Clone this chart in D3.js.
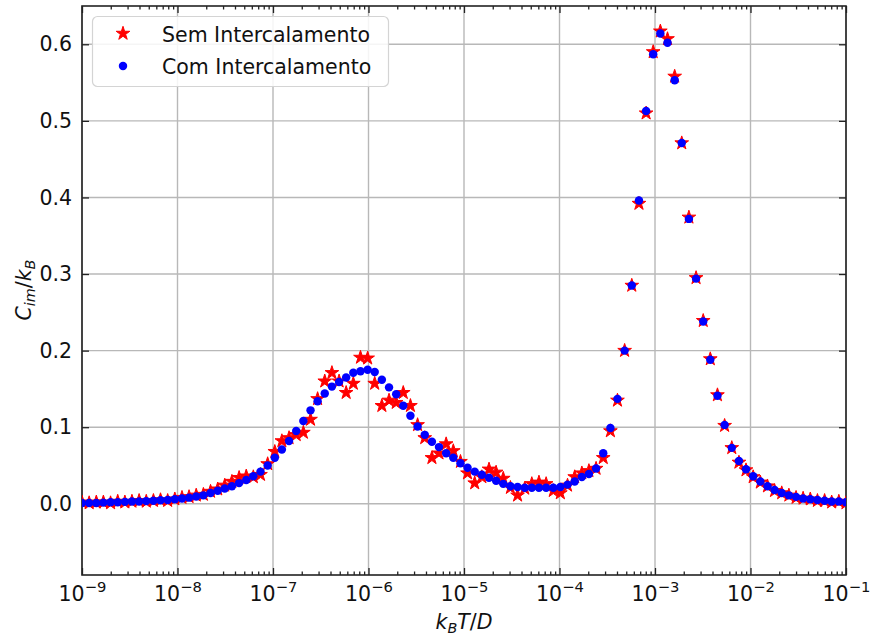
<!DOCTYPE html>
<html>
<head>
<meta charset="utf-8">
<script src="https://cdn.jsdelivr.net/npm/d3@7"></script>
<style>
body { margin: 0; background: #fff; }
text { font-family: "DejaVu Sans", sans-serif; fill: #111; }
</style>
</head>
<body>
<div id="canvas"></div>
<script>
// values: log10(kB T / D) for each point
const logT = [
  -9.000, -8.925, -8.850, -8.776, -8.701, -8.626, -8.551, -8.477, -8.402, -8.327,
  -8.252, -8.178, -8.103, -8.028, -7.953, -7.879, -7.804, -7.729, -7.654, -7.579,
  -7.505, -7.430, -7.355, -7.280, -7.206, -7.131, -7.056, -6.981, -6.907, -6.832,
  -6.757, -6.682, -6.607, -6.533, -6.458, -6.383, -6.308, -6.234, -6.159, -6.084,
  -6.009, -5.935, -5.860, -5.785, -5.710, -5.636, -5.561, -5.486, -5.411, -5.336,
  -5.262, -5.187, -5.112, -5.037, -4.963, -4.888, -4.813, -4.738, -4.664, -4.589,
  -4.514, -4.439, -4.364, -4.290, -4.215, -4.140, -4.065, -3.991, -3.916, -3.841,
  -3.766, -3.692, -3.617, -3.542, -3.467, -3.393, -3.318, -3.243, -3.168, -3.093,
  -3.019, -2.944, -2.869, -2.794, -2.720, -2.645, -2.570, -2.495, -2.421, -2.346,
  -2.271, -2.196, -2.121, -2.047, -1.972, -1.897, -1.822, -1.748, -1.673, -1.598,
  -1.523, -1.449, -1.374, -1.299, -1.224, -1.150, -1.075, -1.000
];

// C_im / kB, red stars
const semIntercalamento = [
  0.002, 0.001, 0.002, 0.002, 0.001, 0.003, 0.002, 0.003, 0.004, 0.003,
  0.004, 0.005, 0.004, 0.006, 0.008, 0.009, 0.011, 0.012, 0.016, 0.019,
  0.024, 0.029, 0.034, 0.036, 0.035, 0.038, 0.052, 0.068, 0.082, 0.086,
  0.090, 0.093, 0.110, 0.137, 0.160, 0.171, 0.160, 0.145, 0.157, 0.191,
  0.190, 0.157, 0.128, 0.135, 0.132, 0.145, 0.128, 0.103, 0.086, 0.060,
  0.066, 0.078, 0.069, 0.055, 0.040, 0.027, 0.035, 0.045, 0.041, 0.033,
  0.021, 0.011, 0.020, 0.026, 0.028, 0.026, 0.017, 0.014, 0.024, 0.035,
  0.040, 0.043, 0.046, 0.060, 0.095, 0.135, 0.200, 0.285, 0.392, 0.510,
  0.590, 0.617, 0.607, 0.558, 0.471, 0.374, 0.295, 0.239, 0.189, 0.142,
  0.102, 0.073, 0.054, 0.044, 0.035, 0.028, 0.023, 0.017, 0.014, 0.011,
  0.008, 0.007, 0.006, 0.004, 0.004, 0.002, 0.003, 0.001
];

// C_im / kB, blue dots
const comIntercalamento = [
  0.001, 0.001, 0.001, 0.0015, 0.002, 0.002, 0.0025, 0.003, 0.003, 0.0035,
  0.004, 0.0045, 0.005, 0.006, 0.007, 0.008, 0.0095, 0.011, 0.014, 0.017,
  0.020, 0.023, 0.027, 0.031, 0.036, 0.042, 0.050, 0.060, 0.071, 0.082,
  0.095, 0.108, 0.122, 0.134, 0.144, 0.153, 0.159, 0.165, 0.171, 0.173,
  0.175, 0.172, 0.162, 0.152, 0.143, 0.128, 0.115, 0.101, 0.090, 0.081,
  0.074, 0.066, 0.060, 0.053, 0.047, 0.042, 0.038, 0.034, 0.030, 0.026,
  0.023, 0.022, 0.021, 0.021, 0.021, 0.021, 0.021, 0.022, 0.025, 0.029,
  0.035, 0.039, 0.046, 0.066, 0.099, 0.137, 0.200, 0.285, 0.396, 0.513,
  0.587, 0.614, 0.602, 0.553, 0.471, 0.372, 0.294, 0.238, 0.188, 0.141,
  0.103, 0.073, 0.056, 0.045, 0.036, 0.029, 0.023, 0.018, 0.014, 0.011,
  0.009, 0.007, 0.006, 0.005, 0.004, 0.003, 0.003, 0.002
];

const xDecades = [-9, -8, -7, -6, -5, -4, -3, -2, -1];
const yTicks = [0, 0.1, 0.2, 0.3, 0.4, 0.5, 0.6];
const seriesNames = ["Sem Intercalamento", "Com Intercalamento"];

// dimensions
const width = 873;
const height = 639;
const margins = {top: 6, right: 27, bottom: 64, left: 82};
const dataWidth = width - margins.left - margins.right;
const dataHeight = height - margins.top - margins.bottom;

const fontSize = 20.5;
const gridColor = "#b8b8b8";
const frameColor = "#222";

var svg = d3.select("#canvas").append("svg")
    .attr("width", width)
    .attr("height", height);

var dataArea = svg.append("g")
    .attr("transform", `translate(${margins.left}, ${margins.top})`);

svg.append("defs").append("clipPath")
    .attr("id", "clip")
    .append("rect")
    .attr("width", dataWidth)
    .attr("height", dataHeight);

// scales
var x = d3.scaleLog()
    .domain([1e-9, 1e-1])
    .range([0, dataWidth]);
var y = d3.scaleLinear()
    .domain([-0.093, 0.65])
    .range([dataHeight, 0]);

const majorX = xDecades.map(d => Math.pow(10, d));
const minorX = [];
xDecades.slice(0, -1).forEach(d => {
    for (let m = 2; m <= 9; m++) minorX.push(m * Math.pow(10, d));
});

// grid
dataArea.append("g")
    .selectAll("line")
    .data(majorX)
    .join("line")
    .attr("x1", d => x(d)).attr("x2", d => x(d))
    .attr("y1", 0).attr("y2", dataHeight)
    .attr("stroke", gridColor)
    .attr("stroke-width", 1.4);
dataArea.append("g")
    .selectAll("line")
    .data(yTicks)
    .join("line")
    .attr("x1", 0).attr("x2", dataWidth)
    .attr("y1", d => y(d)).attr("y2", d => y(d))
    .attr("stroke", gridColor)
    .attr("stroke-width", 1.4);

// ticks pointing inward on all four sides
function styleAxis(g) {
    g.select(".domain").remove();
    g.selectAll(".tick line").attr("stroke", frameColor).attr("stroke-width", 1.3);
}

var xAxisGroup = dataArea.append("g")
    .attr("transform", `translate(0, ${dataHeight})`)
    .call(d3.axisBottom(x).tickValues(majorX).tickSizeInner(-7).tickSizeOuter(0).tickFormat(""))
    .call(styleAxis);
dataArea.append("g")
    .attr("transform", `translate(0, ${dataHeight})`)
    .call(d3.axisBottom(x).tickValues(minorX).tickSizeInner(-3.5).tickSizeOuter(0).tickFormat(""))
    .call(styleAxis);
dataArea.append("g")
    .call(d3.axisTop(x).tickValues(majorX).tickSizeInner(-7).tickSizeOuter(0).tickFormat(""))
    .call(styleAxis);
dataArea.append("g")
    .call(d3.axisTop(x).tickValues(minorX).tickSizeInner(-3.5).tickSizeOuter(0).tickFormat(""))
    .call(styleAxis);

dataArea.append("g")
    .call(d3.axisLeft(y).tickValues(yTicks).tickSizeInner(-7).tickSizeOuter(0)
        .tickPadding(10).tickFormat(d3.format(".1f")))
    .call(styleAxis)
    .call(g => g.selectAll("text")
        .attr("font-size", fontSize)
        .attr("font-family", "DejaVu Sans")
        .attr("fill", "#111"));
dataArea.append("g")
    .attr("transform", `translate(${dataWidth}, 0)`)
    .call(d3.axisRight(y).tickValues(yTicks).tickSizeInner(-7).tickSizeOuter(0).tickFormat(""))
    .call(styleAxis);

// x tick labels as 10 with superscript exponent
var xLabels = xAxisGroup.selectAll(".tick")
    .append("text")
    .attr("y", 26)
    .attr("text-anchor", "middle")
    .attr("font-size", fontSize);
xLabels.append("tspan").text("10");
xLabels.append("tspan")
    .attr("dy", -9)
    .attr("font-size", fontSize * 0.72)
    .text((d, i) => "\u2212" + Math.abs(xDecades[i]));

// frame
dataArea.append("rect")
    .attr("width", dataWidth)
    .attr("height", dataHeight)
    .attr("fill", "none")
    .attr("stroke", frameColor)
    .attr("stroke-width", 1.6);

// markers
var star = d3.symbol().type(d3.symbolStar).size(58);
var dot = d3.symbol().type(d3.symbolCircle).size(56);

var points = dataArea.append("g").attr("clip-path", "url(#clip)");
points.selectAll(".sem")
    .data(semIntercalamento)
    .join("path")
    .attr("class", "sem")
    .attr("d", star)
    .attr("transform", (d, i) => `translate(${x(Math.pow(10, logT[i]))}, ${y(d)})`)
    .attr("fill", "#ff0000")
    .attr("stroke", "#ff0000")
    .attr("stroke-width", 1);
points.selectAll(".com")
    .data(comIntercalamento)
    .join("path")
    .attr("class", "com")
    .attr("d", dot)
    .attr("transform", (d, i) => `translate(${x(Math.pow(10, logT[i]))}, ${y(d)})`)
    .attr("fill", "#0000ff");

// legend
var legend = svg.append("g").attr("transform", "translate(92.5, 16.5)");
legend.append("rect")
    .attr("width", 296)
    .attr("height", 70)
    .attr("rx", 5)
    .attr("fill", "#fff")
    .attr("fill-opacity", 0.85)
    .attr("stroke", "#d4d4d4")
    .attr("stroke-width", 1.2);
legend.append("path")
    .attr("d", star)
    .attr("transform", "translate(30.5, 17)")
    .attr("fill", "#ff0000")
    .attr("stroke", "#ff0000");
legend.append("path")
    .attr("d", dot)
    .attr("transform", "translate(30.5, 49.5)")
    .attr("fill", "#0000ff");
legend.selectAll(".label")
    .data(seriesNames)
    .join("text")
    .attr("class", "label")
    .attr("x", 69.5)
    .attr("y", (d, i) => 25 + i * 32.5)
    .attr("font-size", fontSize)
    .text(d => d);

// X axis label: k_B T/D
var xTitle = svg.append("text")
    .attr("text-anchor", "middle")
    .attr("x", margins.left + 382)
    .attr("y", 629)
    .attr("font-size", fontSize);
xTitle.append("tspan").attr("font-style", "italic").text("k");
xTitle.append("tspan").attr("font-style", "italic").attr("font-size", fontSize * 0.7).attr("dy", 4).text("B");
xTitle.append("tspan").attr("font-style", "italic").attr("dy", -4).text("T");
xTitle.append("tspan").text("/");
xTitle.append("tspan").attr("font-style", "italic").text("D");

// Y axis label: C_im/k_B
var yTitle = svg.append("text")
    .attr("text-anchor", "middle")
    .attr("transform", "translate(31, 290) rotate(-90)")
    .attr("font-size", fontSize);
yTitle.append("tspan").attr("font-style", "italic").text("C");
yTitle.append("tspan").attr("font-style", "italic").attr("font-size", fontSize * 0.7).attr("dy", 4).text("im");
yTitle.append("tspan").attr("dy", -4).text("/");
yTitle.append("tspan").attr("font-style", "italic").text("k");
yTitle.append("tspan").attr("font-style", "italic").attr("font-size", fontSize * 0.7).attr("dy", 4).text("B");
</script>
</body>
</html>
